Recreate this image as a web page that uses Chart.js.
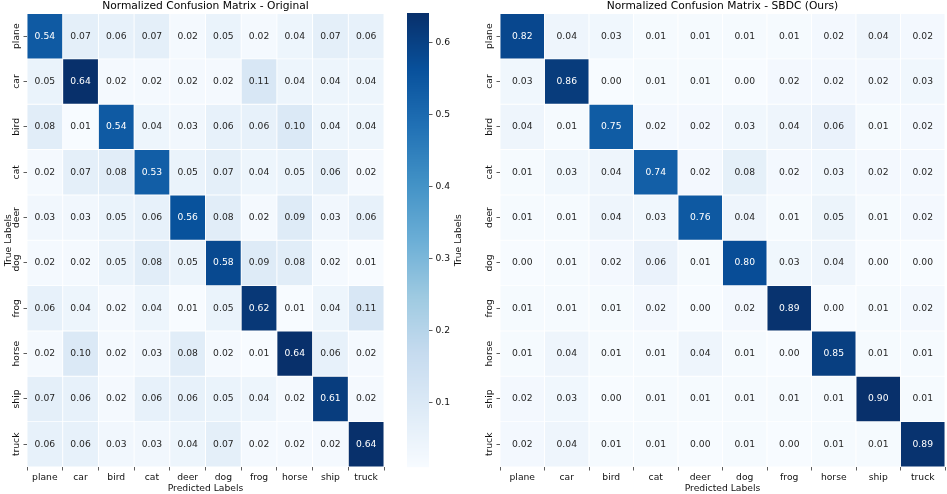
<!DOCTYPE html>
<html lang="en">
<head>
    <meta charset="UTF-8">
    <title>Normalized Confusion Matrices</title>
    <script src="https://cdn.jsdelivr.net/npm/chart.js"></script>
    <style>
        body { margin: 0; background: #fff; }
        #wrap { position: relative; width: 947px; height: 494px; }
        canvas { position: absolute; top: 0; }
        #cmOrig { left: 0; }
        #cbar { left: 398px; }
        #cmOurs { left: 450px; }
    </style>
</head>
<body>
    <div id="wrap">
        <canvas id="cmOrig" width="395" height="494"></canvas>
        <canvas id="cbar" width="57" height="494"></canvas>
        <canvas id="cmOurs" width="497" height="494"></canvas>
    </div>

    <script>
        // class names (rows = true labels, columns = predicted labels)
        const classes = ['plane', 'car', 'bird', 'cat', 'deer', 'dog', 'frog', 'horse', 'ship', 'truck'];

        const origMatrix = [
            [0.54, 0.07, 0.06, 0.07, 0.02, 0.05, 0.02, 0.04, 0.07, 0.06],
            [0.05, 0.64, 0.02, 0.02, 0.02, 0.02, 0.11, 0.04, 0.04, 0.04],
            [0.08, 0.01, 0.54, 0.04, 0.03, 0.06, 0.06, 0.10, 0.04, 0.04],
            [0.02, 0.07, 0.08, 0.53, 0.05, 0.07, 0.04, 0.05, 0.06, 0.02],
            [0.03, 0.03, 0.05, 0.06, 0.56, 0.08, 0.02, 0.09, 0.03, 0.06],
            [0.02, 0.02, 0.05, 0.08, 0.05, 0.58, 0.09, 0.08, 0.02, 0.01],
            [0.06, 0.04, 0.02, 0.04, 0.01, 0.05, 0.62, 0.01, 0.04, 0.11],
            [0.02, 0.10, 0.02, 0.03, 0.08, 0.02, 0.01, 0.64, 0.06, 0.02],
            [0.07, 0.06, 0.02, 0.06, 0.06, 0.05, 0.04, 0.02, 0.61, 0.02],
            [0.06, 0.06, 0.03, 0.03, 0.04, 0.07, 0.02, 0.02, 0.02, 0.64]
        ];

        const oursMatrix = [
            [0.82, 0.04, 0.03, 0.01, 0.01, 0.01, 0.01, 0.02, 0.04, 0.02],
            [0.03, 0.86, 0.00, 0.01, 0.01, 0.00, 0.02, 0.02, 0.02, 0.03],
            [0.04, 0.01, 0.75, 0.02, 0.02, 0.03, 0.04, 0.06, 0.01, 0.02],
            [0.01, 0.03, 0.04, 0.74, 0.02, 0.08, 0.02, 0.03, 0.02, 0.02],
            [0.01, 0.01, 0.04, 0.03, 0.76, 0.04, 0.01, 0.05, 0.01, 0.02],
            [0.00, 0.01, 0.02, 0.06, 0.01, 0.80, 0.03, 0.04, 0.00, 0.00],
            [0.01, 0.01, 0.01, 0.02, 0.00, 0.02, 0.89, 0.00, 0.01, 0.02],
            [0.01, 0.04, 0.01, 0.01, 0.04, 0.01, 0.00, 0.85, 0.01, 0.01],
            [0.02, 0.03, 0.00, 0.01, 0.01, 0.01, 0.01, 0.01, 0.90, 0.01],
            [0.02, 0.04, 0.01, 0.01, 0.00, 0.01, 0.00, 0.01, 0.01, 0.89]
        ];

        const cbarTicks = [0.1, 0.2, 0.3, 0.4, 0.5, 0.6];

        // matplotlib "Blues"
        const blues = [
            [247, 251, 255], [222, 235, 247], [198, 219, 239], [158, 202, 225], [107, 174, 214],
            [66, 146, 198], [33, 113, 181], [8, 81, 156], [8, 48, 107]
        ];

        function bluesRgb(t) {
            t = Math.max(0, Math.min(1, t));
            const pos = t * (blues.length - 1);
            const i = Math.min(Math.floor(pos), blues.length - 2);
            const f = pos - i;
            return blues[i].map((c, k) => c + (blues[i + 1][k] - c) * f);
        }

        function toCss(rgb) {
            return `rgb(${rgb.map(Math.round).join(',')})`;
        }

        // same rule seaborn uses to pick the annotation colour
        function luminance(rgb) {
            const lin = rgb.map(c => {
                c = c / 255;
                return c <= 0.03928 ? c / 12.92 : Math.pow((c + 0.055) / 1.055, 2.4);
            });
            return 0.2126 * lin[0] + 0.7152 * lin[1] + 0.0722 * lin[2];
        }

        Chart.defaults.font.family = 'DejaVu Sans';
        Chart.defaults.font.size = 9.2;
        Chart.defaults.color = '#111';
        Chart.defaults.animation = false;

        const FONT = '9.2px "DejaVu Sans"';

        // writes the value in each cell and the rotated row labels
        const heatmapText = {
            id: 'heatmapText',
            afterDatasetsDraw(chart) {
                const ctx = chart.ctx;
                ctx.save();
                ctx.font = FONT;
                ctx.textAlign = 'center';
                ctx.textBaseline = 'middle';
                chart.data.datasets.forEach((ds, i) => {
                    chart.getDatasetMeta(i).data.forEach((bar, j) => {
                        const v = ds.data[j].v;
                        ctx.fillStyle = luminance(ds.cellRgb[j]) > 0.408 ? '#262626' : '#ffffff';
                        ctx.fillText(v.toFixed(2), bar.x, (bar.y + bar.base) / 2);
                    });
                });
                ctx.restore();
            },
            afterDraw(chart) {
                const ctx = chart.ctx;
                const y = chart.scales.y;
                ctx.save();
                ctx.font = FONT;
                ctx.fillStyle = '#111';
                ctx.textAlign = 'center';
                ctx.textBaseline = 'middle';
                classes.forEach((name, i) => {
                    ctx.save();
                    ctx.translate(chart.chartArea.left - 10, y.getPixelForValue(i + 0.5));
                    ctx.rotate(-Math.PI / 2);
                    ctx.fillText(name, 0, 0);
                    ctx.restore();
                });
                ctx.restore();
            }
        };

        function drawHeatmap(id, matrix, title, yWidth, padRight) {
            const all = matrix.flat();
            const vmin = Math.min(...all);
            const vmax = Math.max(...all);

            const datasets = matrix.map((row, i) => {
                const rgb = row.map(v => bluesRgb((v - vmin) / (vmax - vmin)));
                return {
                    label: classes[i],
                    data: row.map((v, j) => ({ x: classes[j], y: [i, i + 1], v: v })),
                    cellRgb: rgb,
                    backgroundColor: rgb.map(toCss),
                    borderColor: 'rgba(255,255,255,0.18)',
                    borderWidth: 0.8,
                    borderSkipped: false,
                    grouped: false,
                    barPercentage: 1,
                    categoryPercentage: 1
                };
            });

            new Chart(document.getElementById(id), {
                type: 'bar',
                data: { labels: classes, datasets: datasets },
                options: {
                    responsive: false,
                    layout: { padding: { left: 0, right: padRight, top: 0, bottom: 0 } },
                    plugins: {
                        legend: { display: false },
                        tooltip: { enabled: false },
                        title: {
                            display: true,
                            text: title,
                            fullSize: false,
                            color: '#000',
                            font: { size: 10.7, weight: 'normal' },
                            padding: { top: 0, bottom: 0.7 }
                        }
                    },
                    scales: {
                        x: {
                            grid: { drawOnChartArea: false, drawTicks: true, tickLength: 3.5, color: '#333', lineWidth: 0.8 },
                            border: { display: false },
                            ticks: { padding: 1.5, maxRotation: 0, autoSkip: false },
                            title: { display: true, text: 'Predicted Labels', color: '#111', padding: { top: 0, bottom: 0 } },
                            afterFit: s => { s.height = 27; }
                        },
                        y: {
                            type: 'linear',
                            min: 0,
                            max: classes.length,
                            reverse: true,
                            afterBuildTicks: axis => { axis.ticks = classes.map((c, i) => ({ value: i + 0.5 })); },
                            ticks: { display: false },
                            grid: { drawOnChartArea: false, drawTicks: true, tickLength: 3.5, color: '#333', lineWidth: 0.8 },
                            border: { display: false },
                            title: { display: true, text: 'True Labels', color: '#111', padding: { top: 2.6, bottom: 0 } },
                            afterFit: s => { s.width = yWidth; }
                        }
                    }
                },
                plugins: [heatmapText]
            });

            return { vmin, vmax };
        }

        const origRange = drawHeatmap('cmOrig', origMatrix, 'Normalized Confusion Matrix - Original', 27, 11);
        drawHeatmap('cmOurs', oursMatrix, 'Normalized Confusion Matrix - SBDC (Ours)', 50, 2);

        // colour bar for the left matrix
        const colorStrip = {
            id: 'colorStrip',
            beforeDatasetsDraw(chart) {
                const { ctx, chartArea } = chart;
                const y = chart.scales.y;
                for (let py = Math.floor(chartArea.top); py < chartArea.bottom; py++) {
                    const v = y.getValueForPixel(py + 0.5);
                    ctx.fillStyle = toCss(bluesRgb((v - origRange.vmin) / (origRange.vmax - origRange.vmin)));
                    ctx.fillRect(chartArea.left, py, chartArea.right - chartArea.left, 1.2);
                }
            }
        };

        new Chart(document.getElementById('cbar'), {
            type: 'scatter',
            data: { datasets: [] },
            options: {
                responsive: false,
                layout: { padding: { left: 9, right: 0, top: 13.5, bottom: 27 } },
                plugins: { legend: { display: false }, tooltip: { enabled: false } },
                scales: {
                    x: { display: false },
                    y: {
                        position: 'right',
                        min: origRange.vmin,
                        max: origRange.vmax,
                        afterBuildTicks: axis => { axis.ticks = cbarTicks.map(v => ({ value: v })); },
                        ticks: { padding: 3, callback: v => v.toFixed(1) },
                        grid: { drawOnChartArea: false, drawTicks: true, tickLength: 3.5, color: '#333', lineWidth: 0.8 },
                        border: { display: false },
                        afterFit: s => { s.width = 26; }
                    }
                }
            },
            plugins: [colorStrip]
        });
    </script>
</body>
</html>
